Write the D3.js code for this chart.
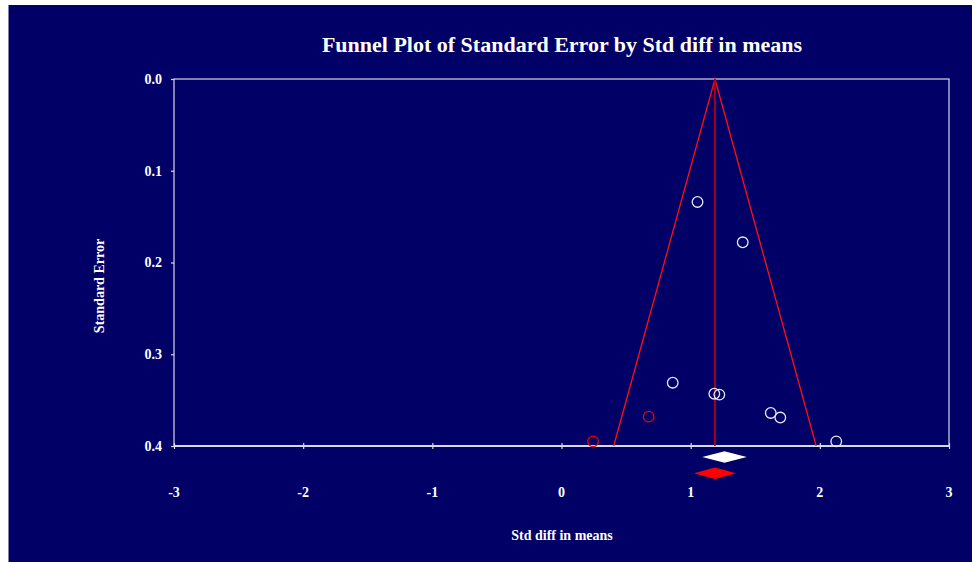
<!DOCTYPE html>
<html>
<head>
<meta charset="utf-8">
<script src="https://cdn.jsdelivr.net/npm/d3@7"></script>
<style>
  html, body { margin: 0; padding: 0; background: #ffffff; }
  svg { display: block; }
  text { font-family: "Liberation Serif", "Times New Roman", serif; font-weight: bold; fill: #ffffff; }
</style>
</head>
<body>
<svg id="chart" width="972" height="562"></svg>
<script>
// Observed studies: effect size (std diff in means) and standard error
const studyEffect = [1.053, 1.403, 0.861, 1.183, 1.222, 1.620, 1.694, 2.127];
const studySE     = [0.134, 0.178, 0.331, 0.343, 0.344, 0.364, 0.369, 0.395];

// Imputed studies (trim and fill)
const imputedEffect = [0.675, 0.244];
const imputedSE     = [0.368, 0.395];

// Pooled estimates: [lower, point, upper]
const observedPooled = [1.090, 1.262, 1.434];
const adjustedPooled = [1.026, 1.188, 1.351];

const xTicks = [-3, -2, -1, 0, 1, 2, 3];
const yTicks = [0.0, 0.1, 0.2, 0.3, 0.4];

const svg = d3.select("#chart");
const W = 972, H = 562;
const plot = { left: 174, right: 949, top: 79, bottom: 446 };

const navy = "#000066";

// page background with the white margin strip at top/left
svg.append("rect").attr("x", 8).attr("y", 5).attr("width", W - 8).attr("height", H - 5).attr("fill", navy);
svg.append("line").attr("x1", 8.5).attr("x2", 8.5).attr("y1", 5).attr("y2", H)
  .attr("stroke", "#8080b0").attr("stroke-width", 1);

const x = d3.scaleLinear().domain([-3, 3]).range([plot.left, plot.right]);
const y = d3.scaleLinear().domain([0, 0.4]).range([plot.top, plot.bottom]);

const axisColor = "#d8d8e8";

// plot frame
svg.append("rect")
  .attr("x", plot.left).attr("y", plot.top)
  .attr("width", plot.right - plot.left).attr("height", plot.bottom - plot.top)
  .attr("fill", "none").attr("stroke", axisColor).attr("stroke-width", 1.2);

// y axis (left)
const yAxis = svg.append("g")
  .attr("transform", `translate(${plot.left},0)`)
  .call(d3.axisLeft(y).tickValues(yTicks).tickSize(3).tickPadding(9).tickFormat(d => d.toFixed(1)));
yAxis.select(".domain").remove();
yAxis.selectAll("line").attr("stroke", axisColor).attr("stroke-width", 1.2);
yAxis.selectAll("text").attr("font-size", 14).attr("fill", "#ffffff")
  .style("font-family", "'Liberation Serif', serif").style("font-weight", "bold");

// x axis: tick marks crossing the bottom edge
const xAxis = svg.append("g")
  .attr("transform", `translate(0,${plot.bottom})`)
  .call(d3.axisBottom(x).tickValues(xTicks).tickSize(3).tickFormat(""));
xAxis.select(".domain").remove();
xAxis.selectAll("line").attr("y1", -3).attr("stroke", axisColor).attr("stroke-width", 1.2);
svg.append("line")
  .attr("x1", plot.left).attr("x2", plot.right)
  .attr("y1", plot.bottom).attr("y2", plot.bottom)
  .attr("stroke", axisColor).attr("stroke-width", 2);

// x tick labels sit below the pooled diamonds (plain hyphen for negatives)
svg.append("g").selectAll("text").data(xTicks).join("text")
  .attr("x", d => x(d)).attr("y", 497)
  .attr("text-anchor", "middle").attr("font-size", 14)
  .text(d => String(d));

// funnel: pseudo 95% limits around the adjusted estimate
const centre = adjustedPooled[1];
const seMax = 0.4;
const funnel = [
  [centre - 1.96 * seMax, seMax],
  [centre, 0],
  [centre + 1.96 * seMax, seMax]
];
svg.append("path")
  .attr("d", d3.line().x(d => x(d[0])).y(d => y(d[1]))(funnel))
  .attr("fill", "none").attr("stroke", "#ff1010").attr("stroke-width", 1.3);

svg.append("line")
  .attr("x1", x(centre)).attr("x2", x(centre))
  .attr("y1", y(0)).attr("y2", y(seMax))
  .attr("stroke", "#b00018").attr("stroke-width", 1.8);

// study markers
svg.append("g").selectAll("circle").data(d3.zip(studyEffect, studySE)).join("circle")
  .attr("cx", d => x(d[0])).attr("cy", d => y(d[1])).attr("r", 5.3)
  .attr("fill", "none").attr("stroke", "#e8e8f4").attr("stroke-width", 1.3);

svg.append("g").selectAll("circle").data(d3.zip(imputedEffect, imputedSE)).join("circle")
  .attr("cx", d => x(d[0])).attr("cy", d => y(d[1])).attr("r", 5.3)
  .attr("fill", "none").attr("stroke", "#ee0000").attr("stroke-width", 1.3);

// pooled diamonds
function diamond(est, cy, half) {
  return `M${x(est[0])},${cy} L${x(est[1])},${cy - half} L${x(est[2])},${cy} L${x(est[1])},${cy + half} Z`;
}
svg.append("path").attr("d", diamond(observedPooled, 457, 5.7)).attr("fill", "#ffffff");
svg.append("path").attr("d", diamond(adjustedPooled, 473.3, 5.7)).attr("fill", "#ff0000");

// titles
svg.append("text").attr("x", 562).attr("y", 52).attr("text-anchor", "middle")
  .attr("font-size", 22).text("Funnel Plot of Standard Error by Std diff in means");

svg.append("text").attr("x", 562).attr("y", 540).attr("text-anchor", "middle")
  .attr("font-size", 14).text("Std diff in means");

svg.append("text")
  .attr("transform", "translate(104,286) rotate(-90)")
  .attr("text-anchor", "middle").attr("font-size", 14).text("Standard Error");
</script>
</body>
</html>
